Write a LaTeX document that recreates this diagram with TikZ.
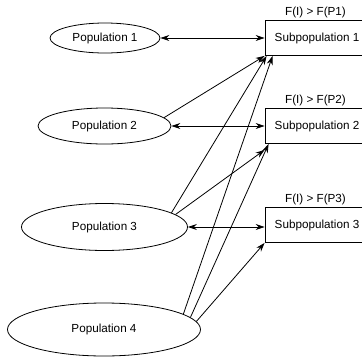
\documentclass[tikz,border=0pt]{standalone}
\usepackage{fontspec}
\setmainfont{Liberation Sans}
\usetikzlibrary{shapes.geometric,arrows.meta}
\tikzset{
  pop/.style={draw, ellipse, inner sep=0pt},
  subpop/.style={draw, rectangle, minimum width=104bp, minimum height=35bp, inner sep=0pt},
  fit label/.style={label={[label distance=-2bp, xshift=-1.5bp]above:#1}},
  link/.style={-{Stealth[length=9bp,width=6bp]}},
  both/.style={{Stealth[length=9bp,width=6bp]}-{Stealth[length=9bp,width=6bp]}}
}
\begin{document}
\begin{tikzpicture}[x=1bp, y=-1bp, line width=.8bp,
  every node/.style={font=\fontsize{11.7bp}{14bp}\selectfont}]
	\useasboundingbox (0,0) rectangle (362,357);
	\node[pop, minimum width=110bp, minimum height=30bp] (p1) at (105,38) {Population 1};
	\node[pop, minimum width=133bp, minimum height=36bp] (p2) at (104.5,126) {Population 2};
	\node[pop, minimum width=166bp, minimum height=47bp] (p3) at (104.5,227) {Population 3};
	\node[pop, minimum width=193bp, minimum height=53bp] (p4) at (104,329.5) {Population 4};
	\node[subpop, fit label={F(I) > F(P1)}] (s1) at (317,38) {Subpopulation 1};
	\node[subpop, fit label={F(I) > F(P2)}] (s2) at (317,126) {Subpopulation 2};
	\node[subpop, fit label={F(I) > F(P3)}] (s3) at (317,225) {Subpopulation 3};
	\draw[both] (p1.east) -- (s1.west);
	\draw[both] (p2.east) -- (s2.west);
	\draw[both] (p3.east) -- (p3.east -| s3.west);
	\draw[link] (p2.8) -- (s1.south west);
	\draw[link] (p3.12) -- ([xshift=2bp]s1.south west);
	\draw[link] (p3.10) -- ([yshift=-6bp]s2.south west);
	\draw[link] (p4.11) -- ([xshift=8bp]s1.south west);
	\draw[link] (p4.8) -- ([xshift=4bp]s2.south west);
	\draw[link] (p4.5) -- (s3.south west);
\end{tikzpicture}
\end{document}
